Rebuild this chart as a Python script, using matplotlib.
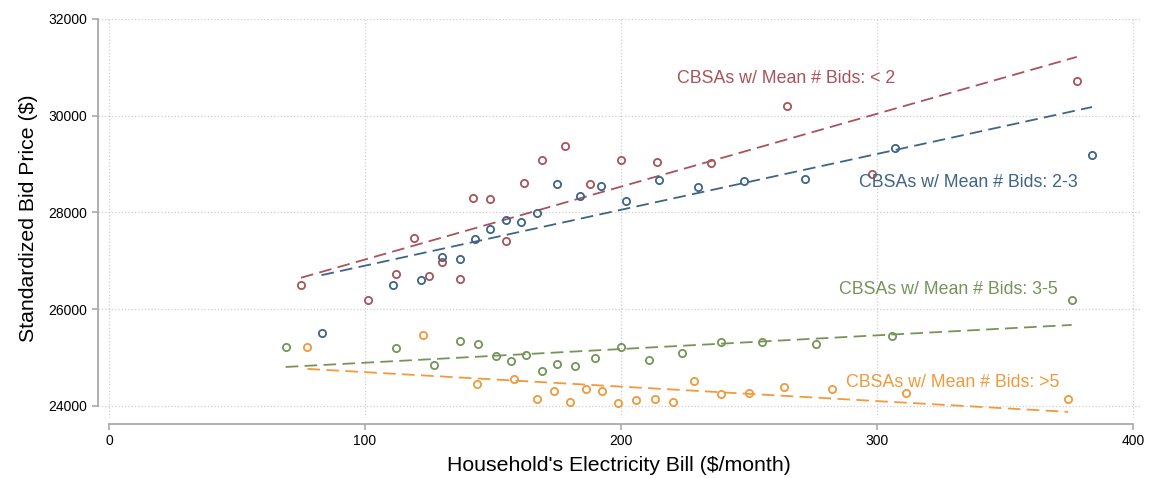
import numpy as np
import matplotlib
matplotlib.use("Agg")
import matplotlib.pyplot as plt

plt.rcParams['font.family'] = ['Liberation Sans', 'DejaVu Sans']

# CBSAs w/ Mean # Bids: < 2
bill_lt2 = [75, 101, 112, 119, 125, 130, 137, 142, 149, 155, 162, 169, 178, 188,
            200, 214, 235, 265, 298, 378]
bid_lt2 = [26500, 26190, 26730, 27470, 26690, 26980, 26625, 28300, 28280, 27410,
           28610, 29085, 29370, 28590, 29085, 29045, 29020, 30200, 28795, 30720]

# CBSAs w/ Mean # Bids: 2-3
bill_2_3 = [83, 111, 122, 130, 137, 143, 149, 155, 161, 167, 175, 184, 192, 202,
            215, 230, 248, 272, 307, 384]
bid_2_3 = [25515, 26510, 26600, 27080, 27045, 27460, 27660, 27850, 27800, 27985,
           28580, 28350, 28555, 28240, 28670, 28525, 28650, 28690, 29330, 29195]

# CBSAs w/ Mean # Bids: 3-5
bill_3_5 = [69, 112, 127, 137, 144, 151, 157, 163, 169, 175, 182, 190, 200, 211,
            224, 239, 255, 276, 306, 376]
bid_3_5 = [25213, 25200, 24847, 25350, 25282, 25033, 24930, 25060, 24730, 24875,
           24833, 24992, 25226, 24944, 25089, 25323, 25323, 25275, 25447, 26190]

# CBSAs w/ Mean # Bids: >5
bill_gt5 = [77.5, 122.5, 143.6, 158, 167, 174, 180, 186.5, 192.4, 198.7, 205.7,
            213.4, 220.2, 228.6, 238.9, 250.1, 263.5, 282.5, 311.2, 374.6]
bid_gt5 = [25213, 25461, 24461, 24552, 24138, 24310, 24090, 24351, 24317, 24062,
           24131, 24138, 24083, 24517, 24241, 24262, 24393, 24358, 24262, 24138]

# fitted lines (intercept, slope)
fit_lt2 = (25520, 15.07)
fit_2_3 = (25745, 11.55)
fit_3_5 = (24610, 2.83)
fit_gt5 = (24997, -2.99)

labels = ["CBSAs w/ Mean # Bids: < 2", "CBSAs w/ Mean # Bids: 2-3",
          "CBSAs w/ Mean # Bids: 3-5", "CBSAs w/ Mean # Bids: >5"]
label_pos = [(222, 30780), (293, 28610), (285, 26400), (288, 24475)]

colors = ["#a8545a", "#3e6488", "#76945a", "#f09a3c"]

fig = plt.figure(figsize=(11.52, 4.78), dpi=100)
# y from 23750 (px 418) to 32000 (px 19)
ax = fig.add_axes([98 / 1152, 60 / 478, 1042 / 1152, 399 / 478])

groups = [(bill_lt2, bid_lt2, fit_lt2), (bill_2_3, bid_2_3, fit_2_3),
          (bill_3_5, bid_3_5, fit_3_5), (bill_gt5, bid_gt5, fit_gt5)]

for (x, y, fit), c, lab, pos in zip(groups, colors, labels, label_pos):
    x = np.array(x)
    ax.plot(x, y, 'o', mfc='none', mec=c, mew=1.3, ms=5.2, clip_on=False, zorder=3)
    xs = np.array([x.min(), x.max()])
    ax.plot(xs, fit[0] + fit[1] * xs, '--', color=c, lw=1.3, dashes=(7, 3.5),
            zorder=2, clip_on=False)
    ax.text(pos[0], pos[1], lab, color=c, fontsize=12.8, va='center', ha='left')

ax.set_xlim(-4.3, 402.7)
ax.set_ylim(23750, 32000)
ax.set_xticks([0, 100, 200, 300, 400])
ax.set_yticks([24000, 26000, 28000, 30000, 32000])
ax.grid(True, linestyle=':', color='#cfcfcf', linewidth=0.9)
ax.get_xgridlines()[0].set_visible(False)
ax.set_axisbelow(True)

for s in ['top', 'right']:
    ax.spines[s].set_visible(False)
ax.spines['left'].set_bounds(24000, 32000)
ax.spines['bottom'].set_bounds(0, 400)
ax.spines['bottom'].set_position(('outward', 4))
for s in ['left', 'bottom']:
    ax.spines[s].set_color('#aaaaaa')
    ax.spines[s].set_linewidth(1.3)
ax.tick_params(colors='#aaaaaa', labelcolor='black', labelsize=10, length=4, width=1.2)

ax.set_xlabel("Household's Electricity Bill ($/month)", fontsize=15.3, labelpad=6)
ax.set_ylabel("Standardized Bid Price ($)", fontsize=15.3, labelpad=8)

fig.savefig("out.png", dpi=100)
